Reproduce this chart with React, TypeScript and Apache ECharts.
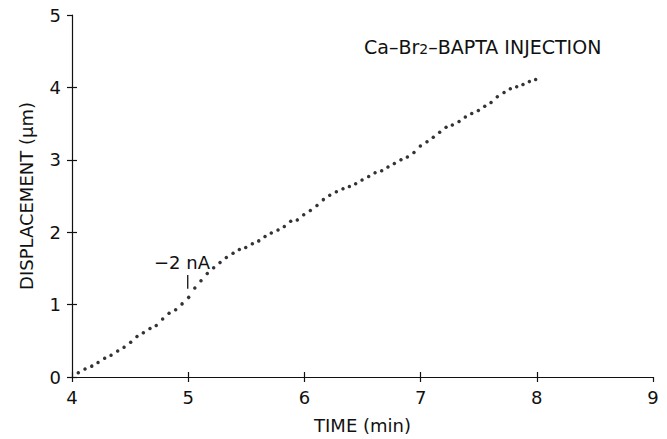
import React, { useEffect, useRef } from "react";
import * as echarts from "echarts";

// Time (min) of each recorded point
const timeMin = [
  4.054, 4.112, 4.17, 4.224, 4.281, 4.336, 4.393, 4.448, 4.505, 4.559,
  4.614, 4.671, 4.725, 4.78, 4.835, 4.892, 4.947, 5.004, 5.057, 5.11,
  5.164, 5.219, 5.274, 5.328, 5.386, 5.44, 5.495, 5.552, 5.607, 5.661,
  5.715, 5.773, 5.827, 5.882, 5.939, 5.994, 6.051, 6.108, 6.163, 6.218,
  6.275, 6.332, 6.387, 6.441, 6.496, 6.553, 6.608, 6.665, 6.719, 6.774,
  6.831, 6.886, 6.943, 6.998, 7.055, 7.109, 7.164, 7.219, 7.273, 7.331,
  7.385, 7.44, 7.497, 7.552, 7.606, 7.66, 7.718, 7.772, 7.827, 7.881,
  7.936, 7.99,
];
// Displacement (µm)
const displacement = [
  0.06, 0.11, 0.15, 0.2, 0.26, 0.3, 0.36, 0.41, 0.48, 0.56,
  0.61, 0.67, 0.71, 0.8, 0.88, 0.93, 1.01, 1.1, 1.23, 1.33,
  1.43, 1.51, 1.58, 1.65, 1.71, 1.76, 1.79, 1.84, 1.88, 1.94,
  1.99, 2.03, 2.08, 2.15, 2.17, 2.24, 2.3, 2.37, 2.45, 2.51,
  2.56, 2.6, 2.63, 2.67, 2.72, 2.77, 2.82, 2.85, 2.9, 2.95,
  3.0, 3.04, 3.1, 3.19, 3.25, 3.31, 3.38, 3.45, 3.48, 3.53,
  3.59, 3.64, 3.68, 3.74, 3.79, 3.87, 3.93, 3.98, 4.01, 4.04,
  4.08, 4.11,
];
// current-step marker ("|" under the -2 nA label)
const markerX = [4.996, 4.996];
const markerY = [1.22, 1.41];

const xTicks = [4, 5, 6, 7, 8, 9];
const yTicks = [0, 1, 2, 3, 4, 5];
const xInsideTicks = [4, 5, 6, 7, 8];
const yInsideTicks = [0, 1, 2, 3, 4];

const FONT = "DejaVu Sans";
const INK = "#111";

export default function App() {
  const ref = useRef<HTMLDivElement>(null);
  useEffect(() => {
    if (!ref.current) return;
    const chart = echarts.init(ref.current, null, { renderer: "svg" });
    const pts = timeMin.map((t, i) => [t, displacement[i]]);
    const marker = markerX.map((x, i) => [x, markerY[i]]);
    const axisCommon = {
      type: "value" as const,
      axisLine: { onZero: false, lineStyle: { color: INK, width: 1.2 } },
      splitLine: { show: false },
    };
    chart.setOption({
      animation: false,
      backgroundColor: "#fff",
      grid: { left: 72, right: 14, top: 15, bottom: 58, containLabel: false },
      title: {
        text: "{a|Ca–Br}{s|2}{a|–BAPTA INJECTION}",
        left: 364,
        top: 24,
        padding: 0,
        textStyle: {
          rich: {
            a: { fontFamily: FONT, fontSize: 19, fontWeight: "normal", color: INK, lineHeight: 24, verticalAlign: "bottom" },
            s: { fontFamily: FONT, fontSize: 14, fontWeight: "normal", color: INK, lineHeight: 32, verticalAlign: "bottom" },
          },
        },
      },
      xAxis: [
        {
          ...axisCommon,
          min: 4,
          max: 9,
          interval: 1,
          position: "bottom",
          name: "TIME (min)",
          nameLocation: "middle",
          nameGap: 39,
          nameTextStyle: { fontFamily: FONT, fontSize: 18, color: INK },
          axisTick: { show: true, length: 5, lineStyle: { color: INK, width: 1.2 }, customValues: xTicks },
          axisLabel: { margin: 11, fontFamily: FONT, fontSize: 18, color: INK, customValues: xTicks },
        },
        {
          ...axisCommon,
          min: 4,
          max: 9,
          interval: 1,
          position: "bottom",
          axisLine: { show: false, onZero: false },
          axisTick: { show: true, inside: true, length: 5, lineStyle: { color: INK, width: 1.2 }, customValues: xInsideTicks },
          axisLabel: { show: false },
        },
      ],
      yAxis: [
        {
          ...axisCommon,
          min: 0,
          max: 5,
          interval: 1,
          position: "left",
          name: "DISPLACEMENT (µm)",
          nameLocation: "middle",
          nameGap: 37,
          nameTextStyle: { fontFamily: FONT, fontSize: 18, color: INK },
          axisTick: { show: true, length: 5, lineStyle: { color: INK, width: 1.2 }, customValues: yTicks },
          axisLabel: { margin: 11, fontFamily: FONT, fontSize: 18, color: INK, customValues: yTicks },
        },
        {
          ...axisCommon,
          min: 0,
          max: 5,
          interval: 1,
          position: "left",
          axisLine: { show: false, onZero: false },
          axisTick: { show: true, inside: true, length: 5, lineStyle: { color: INK, width: 1.2 }, customValues: yInsideTicks },
          axisLabel: { show: false },
        },
      ],
      graphic: [
        {
          type: "text",
          x: 154,
          y: 262,
          style: { text: "−2 nA", fontFamily: FONT, fontSize: 18, fill: INK, verticalAlign: "middle" },
        },
      ],
      series: [
        {
          type: "scatter",
          xAxisIndex: 0,
          yAxisIndex: 0,
          data: pts,
          symbol: "circle",
          symbolSize: 3.5,
          itemStyle: { color: "#000" },
        },
        {
          type: "line",
          xAxisIndex: 0,
          yAxisIndex: 0,
          data: marker,
          showSymbol: false,
          symbol: "none",
          lineStyle: { color: INK, width: 1.3 },
        },
      ],
    });
    return () => chart.dispose();
  }, []);
  return (
    <div
      ref={ref}
      style={{ position: "fixed", left: 0, top: 0, width: 667, height: 439 }}
    />
  );
}
